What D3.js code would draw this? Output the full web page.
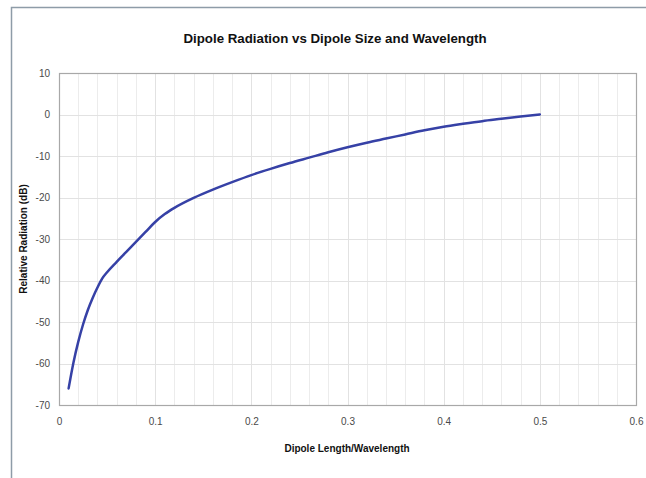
<!DOCTYPE html>
<html><head><meta charset="utf-8">
<script src="https://cdn.jsdelivr.net/npm/d3@7"></script>
<style>body{margin:0;background:#fff}svg{display:block}text{font-family:"Liberation Sans",Arial,sans-serif}</style>
</head><body>
<script>
const title = "Dipole Radiation vs Dipole Size and Wavelength";
const xTitle = "Dipole Length/Wavelength";
const yTitle = "Relative Radiation (dB)";
const xTicks = [0, 0.1, 0.2, 0.3, 0.4, 0.5, 0.6];
const yTicks = [10, 0, -10, -20, -30, -40, -50, -60, -70];
const lengthRatio = [0.01,0.015,0.02,0.025,0.03,0.035,0.04,0.045,0.05,0.06,0.07,0.08,0.09,0.1,0.11,0.12,0.14,0.16,0.18,0.2,0.22,0.24,0.26,0.28,0.3,0.32,0.34,0.36,0.38,0.4,0.42,0.44,0.46,0.48,0.5];
const radiationDb = [-66,-59.8,-54.8,-50.6,-47.1,-44.2,-41.7,-39.5,-38,-35.5,-33.1,-30.7,-28.3,-25.9,-24,-22.5,-20.1,-18.1,-16.3,-14.6,-13.1,-11.7,-10.4,-9.1,-7.9,-6.8,-5.8,-4.8,-3.8,-2.95,-2.25,-1.6,-1.05,-0.5,0];

const W = 646, H = 478;
const m = {l:59, r:636, t:73, b:405};
const svg = d3.select("body").append("svg").attr("width", W).attr("height", H);

// outer frame (top + left)
svg.append("path").attr("d", `M11.5,${H} V7.5 H${W}`).attr("fill","none").attr("stroke","#8e9ca8").attr("stroke-width",1.5);

const x = d3.scaleLinear().domain([0, 0.6]).range([m.l, m.r]);
const y = d3.scaleLinear().domain([-70, 10]).range([m.b, m.t]);

// minor vertical grid
const minor = d3.range(0, 0.6001, 0.02);
svg.append("g").selectAll("line").data(minor).join("line")
  .attr("x1", d => Math.round(x(d)) + 0.5).attr("x2", d => Math.round(x(d)) + 0.5)
  .attr("y1", m.t).attr("y2", m.b).attr("stroke", "#ececec").attr("stroke-width", 1);
svg.append("g").selectAll("line").data(xTicks).join("line")
  .attr("x1", d => Math.round(x(d)) + 0.5).attr("x2", d => Math.round(x(d)) + 0.5)
  .attr("y1", m.t).attr("y2", m.b).attr("stroke", "#e2e2e2").attr("stroke-width", 1);
svg.append("g").selectAll("line").data(yTicks).join("line")
  .attr("y1", d => Math.round(y(d)) + 0.5).attr("y2", d => Math.round(y(d)) + 0.5)
  .attr("x1", m.l).attr("x2", m.r).attr("stroke", "#e2e2e2").attr("stroke-width", 1);

// plot border
svg.append("rect").attr("x", m.l + 0.5).attr("y", m.t + 0.5).attr("width", m.r - m.l).attr("height", m.b - m.t)
  .attr("fill", "none").attr("stroke", "#a8a8a8").attr("stroke-width", 1.2);

// axes
const fmt = d => String(d);
const xAxis = d3.axisBottom(x).tickValues(xTicks).tickFormat(fmt).tickSize(0).tickPadding(13);
const yAxis = d3.axisLeft(y).tickValues(yTicks).tickFormat(fmt).tickSize(0).tickPadding(9);
const gx = svg.append("g").attr("transform", `translate(0,${m.b})`).call(xAxis);
const gy = svg.append("g").attr("transform", `translate(${m.l},0)`).call(yAxis);
[gx, gy].forEach(g => {
  g.select(".domain").remove();
  g.selectAll("text").attr("font-size", 10).attr("fill", "#4a4a4a").style("font-family", '"Liberation Sans",Arial,sans-serif');
});

// line
const data = lengthRatio.map((v, i) => [v, radiationDb[i]]);
svg.append("path").datum(data)
  .attr("d", d3.line().x(d => x(d[0])).y(d => y(d[1])).curve(d3.curveMonotoneX))
  .attr("fill", "none").attr("stroke", "#3641a6").attr("stroke-width", 2.5).attr("stroke-linecap", "round");

// titles
svg.append("text").attr("x", 335).attr("y", 43).attr("text-anchor", "middle")
  .attr("font-size", 13.3).attr("font-weight", "bold").attr("fill", "#111").text(title);
svg.append("text").attr("x", 347).attr("y", 452).attr("text-anchor", "middle")
  .attr("font-size", 10).attr("font-weight", "bold").attr("fill", "#111").text(xTitle);
svg.append("text").attr("transform", "translate(27,239) rotate(-90)").attr("text-anchor", "middle")
  .attr("font-size", 10).attr("font-weight", "bold").attr("fill", "#111").text(yTitle);
</script>
</body></html>
